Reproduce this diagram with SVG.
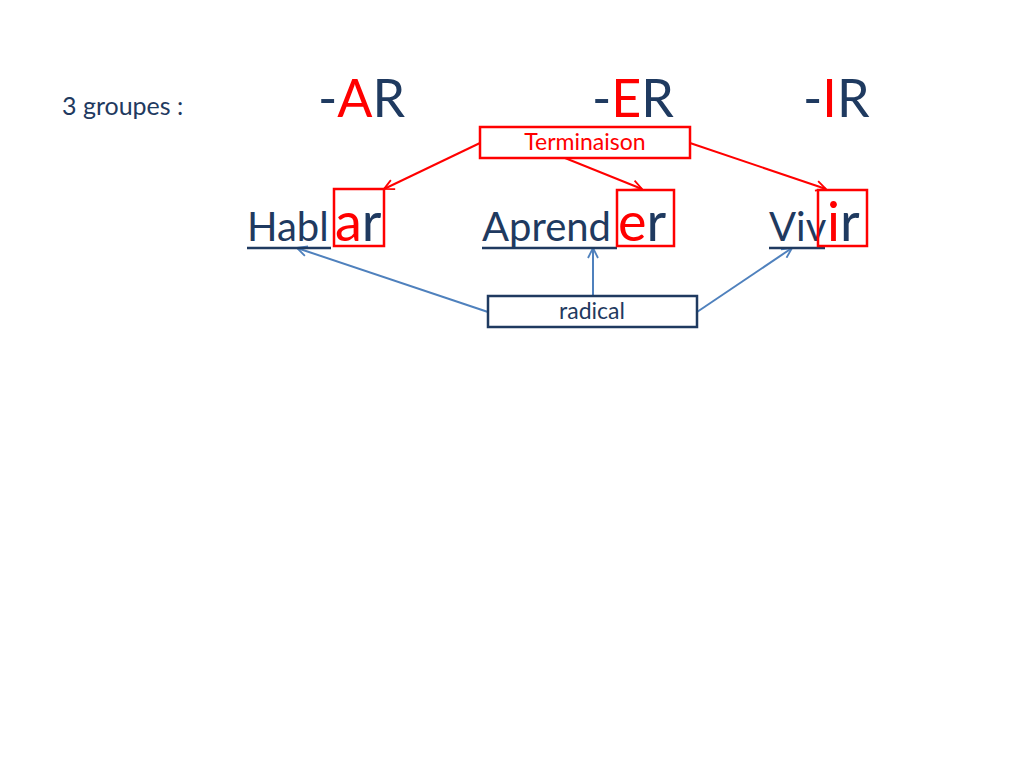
<svg xmlns="http://www.w3.org/2000/svg" width="1024" height="768" viewBox="0 0 1024 768">
<defs>
<style>
text{font-family:Lato,"Liberation Sans",sans-serif;fill:#1F3A60}
.red{fill:#FF0000}
.big{font-size:52px}
.word{font-size:40px}
.end{font-size:54px}
.lbl{font-size:23px}
.rbox{fill:none;stroke:#FF0000;stroke-width:2.5}
.bbox{fill:#fff;stroke:#1F3A60;stroke-width:2.5}
.rline{stroke:#FF0000;stroke-width:2;fill:none}
.bline{stroke:#4F81BD;stroke-width:2;fill:none}
.ul{stroke:#1F3A60;stroke-width:2.5}
</style>
<marker id="ar" viewBox="0 0 12 12" refX="11" refY="6" markerWidth="12" markerHeight="12" markerUnits="userSpaceOnUse" orient="auto">
<path d="M1,1 L11,6 L1,11" fill="none" stroke="#FF0000" stroke-width="1.8"/>
</marker>
<marker id="ab" viewBox="0 0 12 12" refX="11" refY="6" markerWidth="12" markerHeight="12" markerUnits="userSpaceOnUse" orient="auto">
<path d="M1,1 L11,6 L1,11" fill="none" stroke="#4F81BD" stroke-width="1.8"/>
</marker>
</defs>
<rect width="1024" height="768" fill="#fff"/>
<text x="62" y="115" style="font-size:25px">3 groupes :</text>
<g id="groups">
<text x="318" y="117" class="big">-<tspan class="red">A</tspan>R</text>
<text x="592" y="117" class="big">-<tspan class="red">E</tspan>R</text>
<text x="803" y="117" class="big">-<tspan class="red">I</tspan>R</text>
</g>
<g id="connectors">
<line class="rline" x1="480" y1="143" x2="384" y2="189" marker-end="url(#ar)"/>
<line class="rline" x1="565" y1="158" x2="642" y2="189" marker-end="url(#ar)"/>
<line class="rline" x1="690" y1="143" x2="826" y2="189" marker-end="url(#ar)"/>
<line class="bline" x1="488" y1="312" x2="297" y2="248" marker-end="url(#ab)"/>
<line class="bline" x1="593" y1="296" x2="593" y2="248" marker-end="url(#ab)"/>
<line class="bline" x1="697" y1="312" x2="792" y2="248" marker-end="url(#ab)"/>
</g>
<g id="terminaison">
<rect x="480" y="127" width="210" height="31" fill="#fff" stroke="#FF0000" stroke-width="2.5"/>
<text x="585" y="150" class="lbl red" text-anchor="middle">Terminaison</text>
</g>
<g id="hablar">
<text x="247" y="241" class="word">Habl</text>
<line class="ul" x1="247" y1="248" x2="331" y2="248"/>
<rect class="rbox" x="334" y="189" width="50" height="57"/>
<text x="335" y="241" class="end"><tspan class="red">a</tspan>r</text>
</g>
<g id="aprender">
<text x="482" y="241" class="word">Aprend</text>
<line class="ul" x1="482" y1="248" x2="617" y2="248"/>
<rect class="rbox" x="617" y="190" width="57" height="56"/>
<text x="618" y="241" class="end"><tspan class="red">e</tspan>r</text>
</g>
<g id="vivir">
<text x="769" y="241" class="word">Viv</text>
<line class="ul" x1="769" y1="248" x2="825" y2="248"/>
<rect class="rbox" x="818" y="190" width="49" height="56"/>
<text x="827" y="241" class="end"><tspan class="red">i</tspan>r</text>
</g>
<g id="radical">
<rect class="bbox" x="488" y="296" width="209" height="31"/>
<text x="592" y="319" class="lbl" text-anchor="middle">radical</text>
</g>
</svg>
